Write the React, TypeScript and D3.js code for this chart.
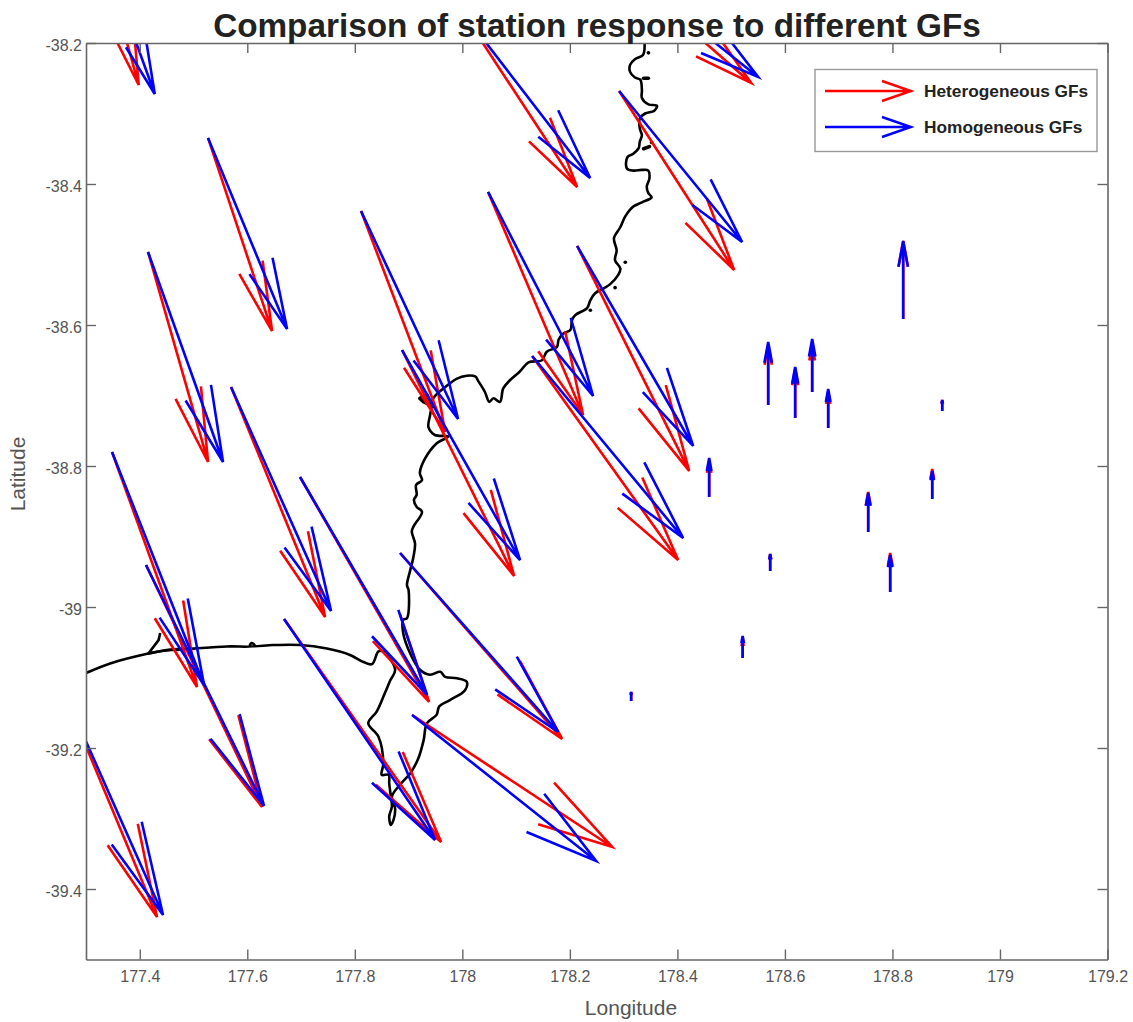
import React, { useEffect, useRef } from 'react';
import * as d3 from 'd3';

const stationLon = [177.32, 177.527, 177.4154, 177.8116, 177.8879, 178.0479, 178.2135, 178.2916, 178.0014, 178.2693, 177.5698, 177.3484, 177.4116, 177.2386, 177.6684, 177.6981, 177.8842, 177.9065, 178.1298, 178.5689, 178.6191, 178.6507, 178.6805, 178.4591, 178.7549, 178.874, 178.7958, 178.5726, 178.5214, 178.8926, 178.314, 178.82];
const stationLat = [-38.0454, -38.3347, -38.4964, -38.4383, -38.6355, -38.4113, -38.4879, -38.2681, -38.1574, -38.078, -38.6879, -38.7801, -38.9404, -39.0851, -39.017, -38.8156, -38.9234, -39.1532, -38.644, -38.7135, -38.7319, -38.695, -38.7461, -38.844, -38.8936, -38.8468, -38.9787, -38.9489, -39.0723, -38.722, -39.1333, -38.5915];

// heterogeneous GFs, displacement in map degrees
const hetU = [0.0781, 0.1191, 0.1116, 0.1563, 0.2084, 0.1767, 0.2084, 0.214, 0.2121, 0.2679, 0.1749, 0.1581, 0.2158, 0.1935, 0.2921, 0.24, 0.3014, 0.3721, 0.2716, 0, 0, 0, 0, 0, 0, 0, 0, 0, 0, 0, 0, 0];
const hetV = [-0.2142, -0.2738, -0.2979, -0.3135, -0.3206, -0.3163, -0.3191, -0.2539, -0.2468, -0.1787, -0.3262, -0.3333, -0.3433, -0.3546, -0.3163, -0.3191, -0.2638, -0.1872, -0.2894, 0.0851, 0.0695, 0.0667, 0.0511, 0.0511, 0.0567, 0.0426, 0.0553, 0.0241, 0.0255, 0.0156, 0.0128, 0.1106];

// homogeneous GFs
const homU = [0.1079, 0.147, 0.1395, 0.1805, 0.2195, 0.1953, 0.2158, 0.2288, 0.2363, 0.2809, 0.186, 0.1712, 0.2195, 0.2047, 0.2809, 0.2363, 0.294, 0.3423, 0.2809, 0, 0, 0, 0, 0, 0, 0, 0, 0, 0, 0, 0, 0];
const homV = [-0.227, -0.2709, -0.2979, -0.295, -0.2979, -0.2894, -0.2837, -0.2142, -0.234, -0.1702, -0.3177, -0.3305, -0.3418, -0.3518, -0.3135, -0.3092, -0.2539, -0.2071, -0.2582, 0.0894, 0.0723, 0.0752, 0.0553, 0.0553, 0.0553, 0.0397, 0.0525, 0.0241, 0.0312, 0.0156, 0.0128, 0.1106];

const xTicks = [177.4, 177.6, 177.8, 178, 178.2, 178.4, 178.6, 178.8, 179, 179.2];
const yTicks = [-38.2, -38.4, -38.6, -38.8, -39, -39.2, -39.4];

const legendLabels = ['Heterogeneous GFs', 'Homogeneous GFs'];
const seriesColors = ['#ff0000', '#0000ff'];

// coastline, lon/lat
const coastMain: [number, number][] = [
  [178.339, -38.2], [178.336, -38.217], [178.321, -38.223], [178.312, -38.231], [178.312, -38.241], [178.321, -38.249], [178.331, -38.252], [178.334, -38.267], [178.334, -38.278], [178.346, -38.287], [178.362, -38.289], [178.357, -38.296], [178.34, -38.3], [178.33, -38.307], [178.33, -38.321], [178.334, -38.331], [178.33, -38.34], [178.328, -38.349], [178.318, -38.357], [178.307, -38.362], [178.306, -38.378], [178.318, -38.381], [178.334, -38.38], [178.346, -38.381], [178.348, -38.392], [178.343, -38.404], [178.346, -38.413], [178.352, -38.419], [178.334, -38.426], [178.318, -38.432], [178.303, -38.446], [178.294, -38.461], [178.282, -38.477], [178.287, -38.494], [178.284, -38.508], [178.294, -38.52], [178.29, -38.529], [178.275, -38.542], [178.263, -38.548], [178.247, -38.555], [178.238, -38.565], [178.232, -38.576], [178.21, -38.586], [178.204, -38.593], [178.201, -38.607], [178.188, -38.612], [178.179, -38.621],
  [178.176, -38.631], [178.157, -38.638], [178.148, -38.65], [178.123, -38.653], [178.107, -38.666], [178.089, -38.678], [178.076, -38.69], [178.07, -38.709], [178.058, -38.704], [178.05, -38.709], [178.042, -38.695], [178.03, -38.68], [178.024, -38.673], [178.008, -38.672], [177.99, -38.676], [177.965, -38.69], [177.946, -38.704], [177.943, -38.716], [177.94, -38.728], [177.937, -38.745], [177.949, -38.756], [177.974, -38.758], [177.952, -38.768], [177.931, -38.789], [177.921, -38.81], [177.925, -38.82], [177.914, -38.827], [177.915, -38.841], [177.91, -38.848], [177.915, -38.858], [177.925, -38.865], [177.909, -38.886], [177.906, -38.893], [177.912, -38.91], [177.909, -38.929], [177.903, -38.948], [177.897, -38.969], [177.9, -38.976], [177.897, -39.016], [177.89, -39.018], [177.89, -39.037], [177.903, -39.066], [177.921, -39.089], [177.94, -39.096], [177.959, -39.092], [177.968, -39.099], [177.99, -39.101],
  [178.008, -39.106], [178.005, -39.118], [177.977, -39.132], [177.957, -39.141], [177.952, -39.153], [177.934, -39.165], [177.928, -39.189], [177.918, -39.215], [177.903, -39.236], [177.884, -39.252], [177.869, -39.269], [177.875, -39.286], [177.872, -39.302], [177.867, -39.309], [177.864, -39.297], [177.869, -39.283], [177.867, -39.269], [177.864, -39.25], [177.863, -39.238], [177.85, -39.238], [177.853, -39.222], [177.844, -39.184], [177.825, -39.165], [177.841, -39.148], [177.856, -39.122], [177.866, -39.104], [177.875, -39.089], [177.853, -39.063], [177.844, -39.063], [177.832, -39.081], [177.816, -39.078], [177.791, -39.068],
  [177.748, -39.059], [177.698, -39.054], [177.648, -39.054], [177.605, -39.055], [177.608, -39.051], [177.614, -39.055], [177.562, -39.056], [177.5, -39.059], [177.444, -39.062], [177.416, -39.066], [177.345, -39.08], [177.29, -39.097],
];
const coastSpur: [number, number][] = [[177.438, -39.037], [177.435, -39.047], [177.416, -39.066], [177.45, -39.061], [177.481, -39.059]];
const islands: [number, number][][] = [
  [[178.346, -38.214], [178.3462, -38.214]],
  [[178.337, -38.25], [178.346, -38.25]],
  [[178.337, -38.35], [178.348, -38.347]],
  [[178.352, -38.341], [178.3522, -38.341]],
  [[178.303, -38.511], [178.3032, -38.511]],
  [[178.284, -38.547], [178.2842, -38.547]],
  [[178.238, -38.579], [178.2382, -38.579]],
  [[177.921, -38.704], [177.934, -38.699], [177.94, -38.713], [177.928, -38.709], [177.921, -38.704]],
];

const width = 1133;
const height = 1022;
const headLen = 0.33;
const headWidth = 0.24;

const App = () => {
  const ref = useRef<SVGSVGElement>(null);

  useEffect(() => {
    const svg = d3.select(ref.current);
    svg.selectAll('*').remove();

    const x = d3.scaleLinear().domain([177.3, 179.2]).range([86, 1107.5]);
    const y = d3.scaleLinear().domain([-38.2, -39.5]).range([43, 959.5]);

    svg.append('defs').append('clipPath').attr('id', 'plotClip')
      .append('rect')
      .attr('x', x(177.3)).attr('y', y(-38.2))
      .attr('width', x(179.2) - x(177.3)).attr('height', y(-39.5) - y(-38.2));

    const plot = svg.append('g').attr('clip-path', 'url(#plotClip)');

    // coast first, arrows go over it
    const coastLine = d3.line<[number, number]>().x((d) => x(d[0])).y((d) => y(d[1]));
    const smoothLine = d3.line<[number, number]>().x((d) => x(d[0])).y((d) => y(d[1])).curve(d3.curveCatmullRom.alpha(0.5));
    plot.append('path')
      .attr('d', smoothLine(coastMain))
      .attr('fill', 'none')
      .attr('stroke', '#000')
      .attr('stroke-width', 2.6)
      .attr('stroke-linejoin', 'round');
    plot.append('path')
      .attr('d', coastLine(coastSpur))
      .attr('fill', 'none')
      .attr('stroke', '#000')
      .attr('stroke-width', 2.6)
      .attr('stroke-linejoin', 'round');
    islands.forEach((seg) => {
      plot.append('path')
        .attr('d', coastLine(seg))
        .attr('fill', '#000')
        .attr('stroke', '#000')
        .attr('stroke-width', 3.6)
        .attr('stroke-linecap', 'round')
        .attr('stroke-linejoin', 'round');
    });

    // same head shape as matlab quiver, worked out in data units
    const quiverPath = (i: number, us: number[], vs: number[]) => {
      const x0 = stationLon[i];
      const y0 = stationLat[i];
      const u = us[i];
      const v = vs[i];
      const tx = x0 + u;
      const ty = y0 + v;
      const a = [tx - headLen * (u + headWidth * v), ty - headLen * (v - headWidth * u)];
      const b = [tx - headLen * (u - headWidth * v), ty - headLen * (v + headWidth * u)];
      return `M${x(x0)},${y(y0)}L${x(tx)},${y(ty)}M${x(a[0])},${y(a[1])}L${x(tx)},${y(ty)}L${x(b[0])},${y(b[1])}`;
    };

    [[hetU, hetV], [homU, homV]].forEach(([us, vs], s) => {
      plot.append('g')
        .selectAll('path')
        .data(stationLon.map((_, i) => i))
        .enter()
        .append('path')
        .attr('d', (i) => quiverPath(i, us, vs))
        .attr('fill', 'none')
        .attr('stroke', seriesColors[s])
        .attr('stroke-width', 2.6);
    });

    const fmt = (d: d3.NumberValue) => String(d);
    const axisColor = '#666';
    const styleAxis = (g: any) => {
      g.selectAll('path').attr('stroke', axisColor).attr('stroke-width', 1.6);
      g.selectAll('line').attr('stroke', axisColor).attr('stroke-width', 1.4);
      g.selectAll('text').attr('fill', '#555').attr('font-size', 16).attr('font-family', '"Liberation Sans", Arial, sans-serif');
    };

    svg.append('g').attr('transform', `translate(0,${y(-39.5)})`)
      .call(d3.axisBottom(x).tickValues(xTicks).tickFormat(fmt).tickSizeInner(-10).tickSizeOuter(0).tickPadding(11))
      .call(styleAxis);
    svg.append('g').attr('transform', `translate(${x(177.3)},0)`)
      .call(d3.axisLeft(y).tickValues(yTicks).tickFormat(fmt).tickSizeInner(-10).tickSizeOuter(0).tickPadding(4))
      .call(styleAxis)
      .selectAll('text').attr('dy', '0.45em');
    svg.append('g').attr('transform', `translate(0,${y(-38.2)})`)
      .call(d3.axisTop(x).tickValues(xTicks).tickFormat(() => '').tickSizeInner(-10).tickSizeOuter(0))
      .call(styleAxis);
    svg.append('g').attr('transform', `translate(${x(179.2)},0)`)
      .call(d3.axisRight(y).tickValues(yTicks).tickFormat(() => '').tickSizeInner(-10).tickSizeOuter(0))
      .call(styleAxis);

    const labelFont = '"Liberation Sans", Arial, sans-serif';
    svg.append('text')
      .attr('x', 597).attr('y', 37)
      .attr('text-anchor', 'middle')
      .attr('font-family', labelFont).attr('font-weight', 'bold').attr('font-size', 33.3)
      .attr('fill', '#222')
      .text('Comparison of station response to different GFs');
    svg.append('text')
      .attr('x', 631).attr('y', 1015)
      .attr('text-anchor', 'middle')
      .attr('font-family', labelFont).attr('font-size', 21)
      .attr('fill', '#555')
      .text('Longitude');
    svg.append('text')
      .attr('transform', 'translate(25,474) rotate(-90)')
      .attr('text-anchor', 'middle')
      .attr('font-family', labelFont).attr('font-size', 21)
      .attr('fill', '#555')
      .text('Latitude');

    // legend
    const legend = svg.append('g');
    legend.append('rect')
      .attr('x', 815).attr('y', 69.5).attr('width', 282).attr('height', 82)
      .attr('fill', '#fff').attr('stroke', '#999').attr('stroke-width', 1.4);
    legendLabels.forEach((label, i) => {
      const ly = 91 + i * 36;
      legend.append('path')
        .attr('d', `M825,${ly}L911,${ly}M882,${ly - 10}L911,${ly}L882,${ly + 10}`)
        .attr('fill', 'none')
        .attr('stroke', seriesColors[i])
        .attr('stroke-width', 2.4);
      legend.append('text')
        .attr('x', 924).attr('y', ly + 6)
        .attr('font-family', labelFont).attr('font-weight', 'bold').attr('font-size', 17.3)
        .attr('fill', '#222')
        .text(label);
    });
  }, []);

  return (
    <svg
      ref={ref}
      width={width}
      height={height}
      style={{ position: 'absolute', left: 0, top: 0, display: 'block', background: '#fff' }}
    />
  );
};

export default App;
